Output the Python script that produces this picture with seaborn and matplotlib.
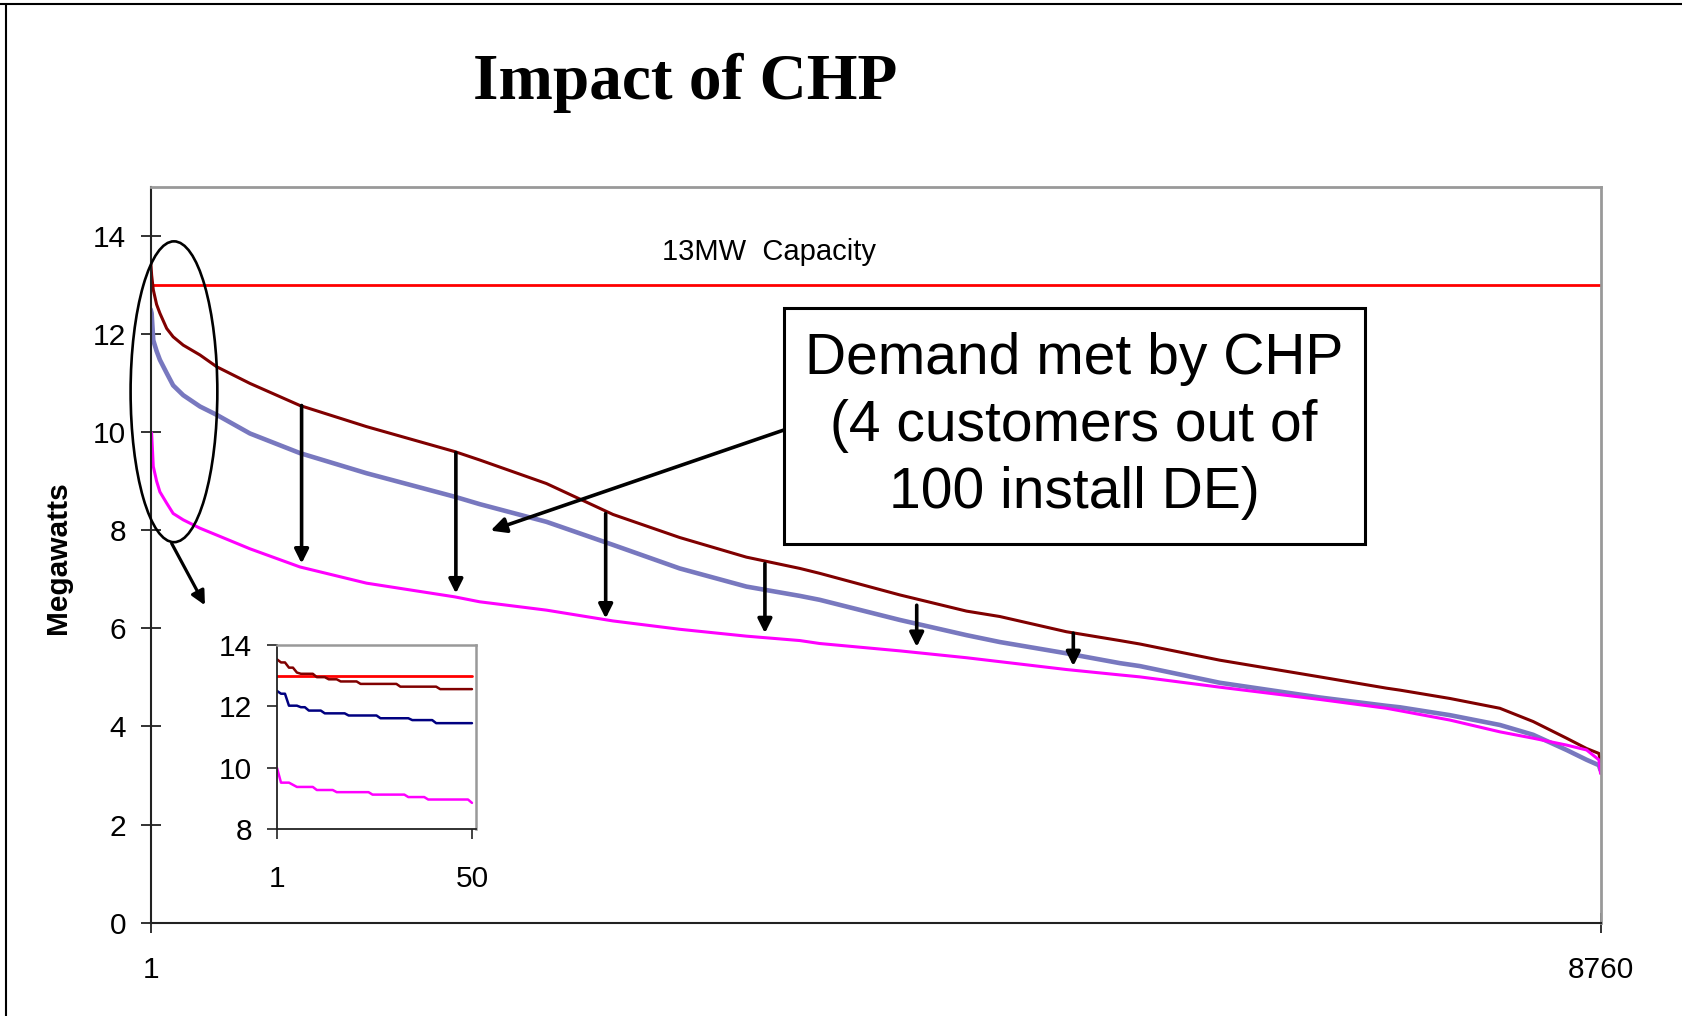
import matplotlib
matplotlib.use("Agg")
import matplotlib.pyplot as plt
import seaborn as sns
from matplotlib.patches import Ellipse, Rectangle
from matplotlib.lines import Line2D

# load duration curves, hours of the year (sorted by load)
hours = [1, 7, 17, 37, 57, 98, 137, 198, 299, 400, 601, 903, 1305, 1839, 1989, 2392,
         2794, 3197, 3600, 3923, 4043, 4527, 4930, 5131, 5533, 5856, 5977, 6460,
         7064, 7467, 7548, 7850, 8152, 8353, 8555, 8676, 8750, 8760]
demand_base = [13.5, 13.2, 12.9, 12.6, 12.42, 12.11, 11.94, 11.77, 11.57, 11.33, 10.99,
               10.54, 10.11, 9.60, 9.43, 8.95, 8.32, 7.85, 7.45, 7.22, 7.12, 6.68, 6.35,
               6.24, 5.93, 5.75, 5.68, 5.35, 5.01, 4.78, 4.74, 4.57, 4.37, 4.10, 3.76,
               3.55, 3.45, 3.28]
demand_mid = [12.5, 12.42, 11.87, 11.65, 11.47, 11.20, 10.95, 10.75, 10.52, 10.35, 9.97,
              9.57, 9.16, 8.68, 8.53, 8.17, 7.70, 7.22, 6.85, 6.66, 6.58, 6.17, 5.86,
              5.72, 5.49, 5.29, 5.23, 4.89, 4.59, 4.42, 4.39, 4.23, 4.03, 3.83, 3.52,
              3.32, 3.21, 3.11]
demand_chp = [10.0, 9.98, 9.3, 9.0, 8.78, 8.55, 8.34, 8.21, 8.04, 7.90, 7.62, 7.25, 6.92,
              6.64, 6.54, 6.37, 6.15, 5.98, 5.84, 5.75, 5.69, 5.54, 5.40, 5.32, 5.16,
              5.05, 5.01, 4.80, 4.55, 4.37, 4.32, 4.13, 3.89, 3.76, 3.62, 3.52, 3.32,
              3.04]
capacity = 13

# arrows showing the demand met by CHP
arrow_hours = [913, 1845, 2750, 3712, 4629, 5575]
arrow_top = [10.54, 9.58, 8.34, 7.32, 6.47, 5.90]
arrow_tip = [7.32, 6.71, 6.20, 5.90, 5.62, 5.23]

# inset: first 50 hours
in_base_h = [1, 2, 3, 4, 5, 6, 7, 10, 11, 13, 14, 16, 17, 21, 22, 31, 32, 41, 42, 50]
in_base_v = [13.53, 13.43, 13.43, 13.26, 13.26, 13.1, 13.06, 13.06, 12.95, 12.95, 12.88,
             12.88, 12.81, 12.81, 12.73, 12.73, 12.64, 12.64, 12.56, 12.56]
in_mid_h = [1, 2, 3, 4, 6, 7, 8, 9, 12, 13, 18, 19, 26, 27, 34, 35, 40, 41, 50]
in_mid_v = [12.5, 12.41, 12.41, 12.02, 12.02, 11.97, 11.97, 11.86, 11.86, 11.77, 11.77,
            11.7, 11.7, 11.61, 11.61, 11.55, 11.55, 11.45, 11.45]
in_chp_h = [1, 2, 4, 6, 10, 11, 15, 16, 24, 25, 33, 34, 38, 39, 49, 50]
in_chp_v = [9.99, 9.51, 9.51, 9.37, 9.37, 9.27, 9.27, 9.2, 9.2, 9.12, 9.12, 9.04, 9.04,
            8.96, 8.96, 8.85]

sns.set_style("white")
plt.rcParams['font.family'] = ['Liberation Sans', 'DejaVu Sans']
plt.rcParams['text.color'] = 'black'
plt.rcParams['xtick.color'] = 'black'
plt.rcParams['ytick.color'] = 'black'

fig = plt.figure(figsize=(16.83, 10.16), dpi=100)
ax = fig.add_axes([0.0895, 0.0918, 0.8615, 0.7245])

sns.lineplot(x=[1, 8760], y=[capacity, capacity], ax=ax, color='#ff0000', lw=2)
sns.lineplot(x=hours, y=demand_mid, ax=ax, color='#7878bf', lw=3.3)
sns.lineplot(x=hours, y=demand_base, ax=ax, color='#800000', lw=2.2)
sns.lineplot(x=hours, y=demand_chp, ax=ax, color='#ff00ff', lw=2.2)

ax.set_xlim(1, 8760)
ax.set_ylim(0, 15)
ax.set_xticks([1, 8760])
ax.set_yticks([0, 2, 4, 6, 8, 10, 12, 14])
ax.set_xlabel('')
ax.set_ylabel('')
ax.tick_params(axis='both', direction='inout', length=14.4, width=1.3, left=True,
               bottom=True, color='#222222', labelsize=21.5, labelcolor='black')
ax.tick_params(axis='y', pad=10.6)
ax.tick_params(axis='x', pad=17)
for s in ['left', 'bottom']:
    ax.spines[s].set_color('#222222')
    ax.spines[s].set_linewidth(1.5)
for s in ['top', 'right']:
    ax.spines[s].set_color('#999999')
    ax.spines[s].set_linewidth(2)

ax.text(3734, 13.67, '13MW  Capacity', fontsize=21, ha='center', va='center')

for h, top, tip in zip(arrow_hours, arrow_top, arrow_tip):
    ax.annotate('', xy=(h, tip), xytext=(h, top),
                arrowprops=dict(arrowstyle='-|>', color='black', lw=2.6,
                                mutation_scale=21, shrinkA=0, shrinkB=0))

# callout box
ax.add_patch(Rectangle((0.4365, 0.5145), 0.4011, 0.3205, transform=ax.transAxes,
                       facecolor='white', edgecolor='black', lw=2.2, zorder=5))
ax.text(0.6368, 0.6748, 'Demand met by CHP\n(4 customers out of\n100 install DE)',
        transform=ax.transAxes, ha='center', va='center', fontsize=41,
        linespacing=1.3, zorder=6)
ax.annotate('', xy=(2055, 7.99), xytext=(3826, 10.04),
            arrowprops=dict(arrowstyle='-|>', color='black', lw=2.6,
                            mutation_scale=23, shrinkA=0, shrinkB=0))

# ellipse around the peak hours
ax.add_patch(Ellipse((142, 10.82), 524, 6.13, facecolor='none', edgecolor='black',
                     lw=1.9, clip_on=False, zorder=4))
ax.annotate('', xy=(329, 6.47), xytext=(128, 7.73),
            arrowprops=dict(arrowstyle='-|>', color='black', lw=2.3,
                            mutation_scale=21, shrinkA=0, shrinkB=0))

# inset
axi = fig.add_axes([0.1646, 0.1841, 0.1182, 0.1811])
axi.set_facecolor('white')
sns.lineplot(x=[1, 50], y=[capacity, capacity], ax=axi, color='#ff0000', lw=2)
sns.lineplot(x=in_base_h, y=in_base_v, ax=axi, color='#800000', lw=1.8)
sns.lineplot(x=in_mid_h, y=in_mid_v, ax=axi, color='#000080', lw=1.8)
sns.lineplot(x=in_chp_h, y=in_chp_v, ax=axi, color='#ff00ff', lw=1.8)
axi.set_xlim(1, 51)
axi.set_ylim(8, 14)
axi.set_xticks([1, 50])
axi.set_yticks([8, 10, 12, 14])
axi.set_xlabel('')
axi.set_ylabel('')
axi.tick_params(axis='both', direction='out', length=7.2, width=1.2, left=True,
                bottom=True, color='#222222', labelsize=21.5, labelcolor='black')
axi.tick_params(axis='y', pad=10.8)
axi.tick_params(axis='x', pad=18.5)
for s in ['left', 'bottom']:
    axi.spines[s].set_color('#222222')
    axi.spines[s].set_linewidth(1.3)
for s in ['top', 'right']:
    axi.spines[s].set_color('#999999')
    axi.spines[s].set_linewidth(1.8)

fig.text(58 / 1683, 1 - 557.5 / 1016, 'Megawatts', rotation=90, ha='center',
         va='center', fontsize=21.5, fontweight='bold')
fig.text(685 / 1683, 1 - 98.7 / 1016, 'Impact of CHP', ha='center', va='baseline',
         fontsize=47, fontweight='bold', family=['Liberation Serif', 'DejaVu Serif'])

# slide border
fig.add_artist(Line2D([0, 1], [1 - 4 / 1016, 1 - 4 / 1016], transform=fig.transFigure,
                      color='black', lw=1.5))
fig.add_artist(Line2D([6 / 1683, 6 / 1683], [0, 1 - 4 / 1016], transform=fig.transFigure,
                      color='black', lw=1.5))

fig.savefig('out.png', dpi=100)
